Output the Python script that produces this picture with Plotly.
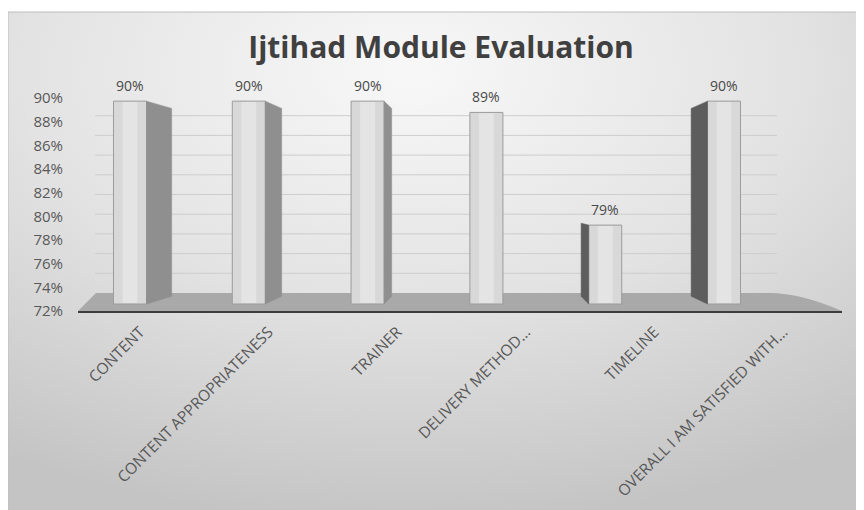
import base64
import plotly.graph_objects as go

# ---- data ----
categories = ["CONTENT", "CONTENT APPROPRIATENESS", "TRAINER", "DELIVERY METHOD…",
              "TIMELINE", "OVERALL I AM SATISFIED WITH…"]
values = [90, 90, 90, 89, 79, 90]
y_ticks = [72, 74, 76, 78, 80, 82, 84, 86, 88, 90]
y_ticktext = [f"{t}%" for t in y_ticks]
title_text = "Ijtihad Module Evaluation"

# ---- layout geometry (reference-image pixels; page body adds an 8px offset) ----
OX, OY = 8, 8
W, H = 864 - OX, 510 - OY
L, R, T, B = 78, 842, 80, 311          # plot area in reference pixels
pw, ph = R - L, B - T

def px_x(p):
    return (p - L) / pw

def px_y(p):
    return (B - p) / ph

idx = list(range(len(categories)))
bar_w = 0.278
base_val = y_ticks[0]
# perspective style constants (in data units of the bar axes)
vp_x, vp_y, depth = 3.0, 81.32, 0.926

fig = go.Figure()

# front faces
fig.add_trace(go.Bar(
    x=idx, y=[v - base_val for v in values], base=base_val, width=bar_w,
    marker=dict(color="#d8d8d8", line=dict(color="#9c9c9c", width=1)),
    hoverinfo="skip", showlegend=False))
# lighter inner strip
fig.add_trace(go.Bar(
    x=idx, y=[v - base_val - 0.15 for v in values], base=base_val + 0.08, width=bar_w * 0.45,
    marker=dict(color="#e4e4e4", line=dict(width=0)),
    hoverinfo="skip", showlegend=False))

# side faces via perspective
for i, v in zip(idx, values):
    if abs(i - vp_x) < 1e-9:
        continue
    if i < vp_x:
        xf = i + bar_w / 2
        col = "#8f8f8f"
    else:
        xf = i - bar_w / 2
        col = "#5d5d5d"
    xb = vp_x + depth * (xf - vp_x)
    yt = vp_y + depth * (v - vp_y)
    yb = vp_y + depth * (base_val - vp_y)
    fig.add_trace(go.Scatter(
        x=[xf, xf, xb, xb, xf], y=[base_val, v, yt, yb, base_val],
        fill="toself", fillcolor=col, mode="lines",
        line=dict(color=col, width=0.5), hoverinfo="skip", showlegend=False))

# hidden trace for label axes
fig.add_trace(go.Scatter(x=idx, y=values, xaxis="x2", yaxis="y2", mode="markers",
                         marker=dict(opacity=0), hoverinfo="skip", showlegend=False))

# value labels
annotations = []
for i, v in zip(idx, values):
    annotations.append(dict(x=i, y=v, xref="x", yref="y", text=f"{v}%",
                            showarrow=False, yanchor="bottom", yshift=4,
                            font=dict(family="Open Sans", size=14, color="#4a4a4a")))

# background gradient
svg = ("<svg xmlns='http://www.w3.org/2000/svg' width='852' height='498' viewBox='0 0 852 498' "
       "preserveAspectRatio='none'><defs><radialGradient id='g' cx='0.47' cy='0.12' r='0.9'>"
       "<stop offset='0' stop-color='#f8f8f8'/><stop offset='0.5' stop-color='#e3e3e3'/>"
       "<stop offset='1' stop-color='#c4c4c4'/></radialGradient></defs>"
       "<rect width='852' height='498' fill='url(#g)'/></svg>")
src = "data:image/svg+xml;base64," + base64.b64encode(svg.encode()).decode()

shapes = []
# frame
shapes.append(dict(type="rect", xref="paper", yref="paper",
                   x0=px_x(8), x1=px_x(860), y0=px_y(515), y1=px_y(12),
                   line=dict(color="#bdbdbd", width=1), fillcolor="rgba(0,0,0,0)", layer="below"))
# back wall gridlines
wall_bottom, wall_scale = 293, 9.85
for t in y_ticks[1:]:
    yp = px_y(wall_bottom - wall_scale * (t - base_val))
    shapes.append(dict(type="line", xref="paper", yref="paper",
                       x0=px_x(95), x1=px_x(777), y0=yp, y1=yp,
                       line=dict(color="#cdcdcd", width=1), layer="below"))
# floor
floor_path = (f"M {px_x(78)},{px_y(311)} L {px_x(96)},{px_y(293)} L {px_x(770)},{px_y(293)} "
              f"Q {px_x(800)},{px_y(293)} {px_x(842)},{px_y(311)} Z")
shapes.append(dict(type="path", xref="paper", yref="paper", path=floor_path,
                   fillcolor="#a9a9a9", line=dict(width=0), layer="below"))

fig.update_layout(
    width=W, height=H,
    margin=dict(l=L - OX, r=W - (R - OX), t=T - OY, b=H - (B - OY), autoexpand=False),
    paper_bgcolor="white", plot_bgcolor="rgba(0,0,0,0)",
    barmode="overlay",
    showlegend=False,
    title=dict(text=title_text, x=(441 - OX) / W, xref="container", xanchor="center",
               y=1 - (47 - OY) / H, yanchor="middle",
               font=dict(family="Open Sans", size=30, color="#404040", weight="bold")),
    images=[dict(source=src, xref="paper", yref="paper", x=px_x(8), y=px_y(12),
                 sizex=px_x(860) - px_x(8), sizey=px_y(12) - px_y(515),
                 xanchor="left", yanchor="top", sizing="stretch", layer="below")],
    shapes=shapes,
    annotations=annotations,
    xaxis=dict(range=[(L - 130) / 118.8, (R - 130) / 118.8], showticklabels=False,
               showgrid=False, zeroline=False, showline=True, linecolor="#3c3c3c",
               linewidth=2, ticks=""),
    yaxis=dict(range=[72 - 7 / 11.27, 72 + 224 / 11.27], visible=False),
    xaxis2=dict(overlaying="x", side="bottom", anchor="y2",
                range=[(L - 140) / 128.6, (R - 140) / 128.6],
                tickvals=idx, ticktext=categories, tickangle=-45,
                tickfont=dict(family="Open Sans", size=15.5, color="#595959"),
                showgrid=False, zeroline=False, showline=False, ticks="",
                ticklabelstandoff=8),
    yaxis2=dict(overlaying="y", side="left", range=[72, 72 + (B - T) / 11.83],
                tickvals=y_ticks, ticktext=y_ticktext,
                tickfont=dict(family="Open Sans", size=15, color="#595959"),
                showgrid=False, zeroline=False, showline=False, ticks="",
                ticklabelstandoff=14),
)

fig.write_html("out.html")
